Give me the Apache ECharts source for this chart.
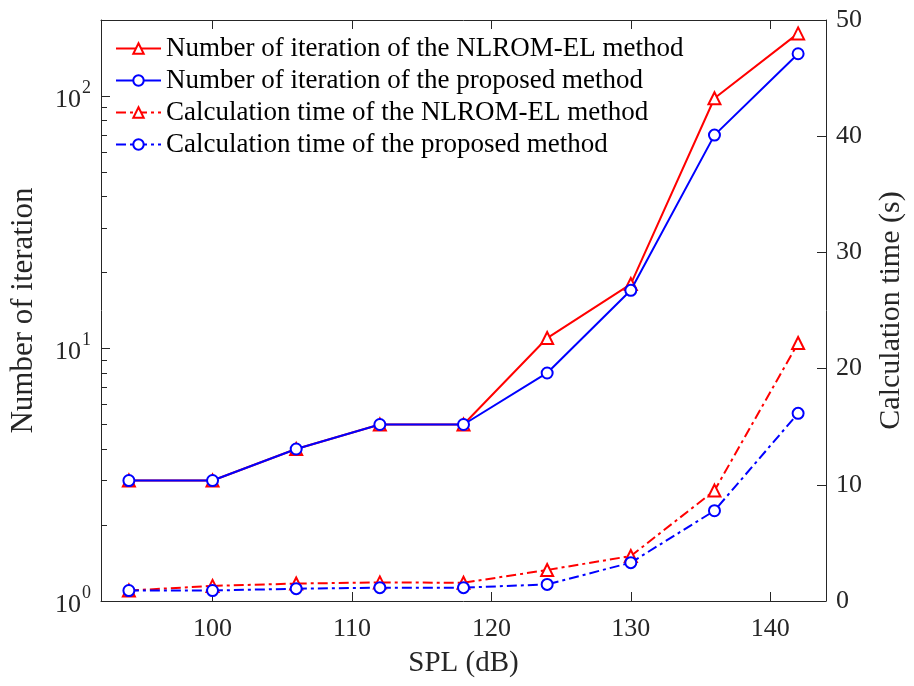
<!DOCTYPE html>
<html>
<head>
<meta charset="utf-8">
<script src="https://cdn.jsdelivr.net/npm/echarts@6/dist/echarts.min.js"></script>
<style>
html, body { margin: 0; padding: 0; background: #fff; }
#main { width: 914px; height: 686px; }
</style>
</head>
<body>
<div id="main"></div>
<script>
var dom = document.getElementById('main');
var myChart = echarts.init(dom);

var spl = [94, 100, 106, 112, 118, 124, 130, 136, 142];
var iterNlrom = [3, 3, 4, 5, 5, 11, 18, 98, 177];
var iterProposed = [3, 3, 4, 5, 5, 8, 17, 70, 147];
var timeNlrom = [0.9, 1.3, 1.5, 1.6, 1.57, 2.67, 3.87, 9.5, 22.2];
var timeProposed = [0.9, 0.9, 1.06, 1.15, 1.15, 1.43, 3.3, 7.77, 16.15];
var xTicks = [100, 110, 120, 130, 140];
var logMajor = [1, 10, 100];
var logMinor = [2, 3, 4, 5, 6, 7, 8, 9, 20, 30, 40, 50, 60, 70, 80, 90, 200];

var names = [
    'Number of iteration of the NLROM-EL method',
    'Number of iteration of the proposed method',
    'Calculation time of the NLROM-EL method',
    'Calculation time of the proposed method'
];

function pairs(ys) {
    var out = [];
    for (var i = 0; i < spl.length; i++) {
        out.push([spl[i], ys[i]]);
    }
    return out;
}

var font = 'Liberation Serif';
var black = '#262626';
var dashDot = [10, 4, 3, 4];

var option = {
    animation: false,
    backgroundColor: '#fff',
    grid: {
        left: 97,
        right: 84,
        top: 20,
        bottom: 85
    },
    legend: {
        left: 110,
        top: 30,
        orient: 'vertical',
        itemWidth: 45,
        itemHeight: 13,
        itemGap: 5,
        textStyle: {
            fontFamily: font,
            fontSize: 27,
            color: '#000'
        },
        data: names
    },
    xAxis: [
        {
            type: 'value',
            min: 92,
            max: 144,
            name: 'SPL (dB)',
            nameLocation: 'middle',
            nameGap: 48,
            nameTextStyle: { fontFamily: font, fontSize: 29, color: black },
            axisLine: { lineStyle: { color: black, width: 1 } },
            axisTick: { inside: true, length: 9, customValues: xTicks, lineStyle: { color: black } },
            axisLabel: { customValues: xTicks, margin: 15, fontFamily: font, fontSize: 26, color: black },
            splitLine: { show: false }
        },
        {
            type: 'value',
            position: 'top',
            min: 92,
            max: 144,
            axisLine: { lineStyle: { color: black, width: 1 } },
            axisTick: { inside: true, length: 9, customValues: xTicks, lineStyle: { color: black } },
            axisLabel: { show: false },
            splitLine: { show: false }
        }
    ],
    yAxis: [
        {
            type: 'log',
            logBase: 10,
            min: 1,
            max: 200,
            position: 'left',
            name: 'Number of iteration',
            nameLocation: 'middle',
            nameRotate: 90,
            nameGap: 62,
            nameTextStyle: { fontFamily: font, fontSize: 31, color: black },
            axisLine: { show: true, lineStyle: { color: black, width: 1 } },
            axisTick: { inside: true, length: 9, customValues: logMajor, lineStyle: { color: black } },
            axisLabel: {
                customValues: logMajor,
                margin: 10,
                formatter: function (v) {
                    var e = Math.round(Math.log(v) / Math.LN10);
                    return '{b|10}{s|' + e + '}';
                },
                rich: {
                    b: { fontFamily: font, fontSize: 26, color: black, lineHeight: 34, verticalAlign: 'bottom' },
                    s: { fontFamily: font, fontSize: 18, color: black, lineHeight: 18, verticalAlign: 'top', padding: [0, 0, 0, 1] }
                }
            },
            splitLine: { show: false }
        },
        {
            type: 'log',
            logBase: 10,
            min: 1,
            max: 200,
            position: 'left',
            axisLine: { show: false },
            axisTick: { inside: true, length: 6, customValues: logMinor, lineStyle: { color: black } },
            axisLabel: { show: false },
            splitLine: { show: false }
        },
        {
            type: 'value',
            min: 0,
            max: 50,
            interval: 10,
            position: 'right',
            name: 'Calculation time (s)',
            nameLocation: 'middle',
            nameRotate: 90,
            nameGap: 50,
            nameTextStyle: { fontFamily: font, fontSize: 30, color: black },
            axisLine: { show: true, lineStyle: { color: black, width: 1 } },
            axisTick: { inside: true, length: 9, lineStyle: { color: black } },
            axisLabel: { margin: 10, fontFamily: font, fontSize: 26, color: black },
            splitLine: { show: false }
        }
    ],
    series: [
        {
            name: names[0],
            type: 'line',
            yAxisIndex: 0,
            data: pairs(iterNlrom),
            symbol: 'emptyTriangle',
            symbolSize: 12,
            color: '#ff0000',
            lineStyle: { width: 2, color: '#ff0000' },
            itemStyle: { borderWidth: 2, color: '#ff0000', borderColor: '#ff0000' },
            z: 2
        },
        {
            name: names[1],
            type: 'line',
            yAxisIndex: 0,
            data: pairs(iterProposed),
            symbol: 'emptyCircle',
            symbolSize: 11,
            color: '#0000ff',
            lineStyle: { width: 2, color: '#0000ff' },
            itemStyle: { borderWidth: 2, color: '#0000ff', borderColor: '#0000ff' },
            z: 3
        },
        {
            name: names[2],
            type: 'line',
            yAxisIndex: 2,
            data: pairs(timeNlrom),
            symbol: 'emptyTriangle',
            symbolSize: 12,
            color: '#ff0000',
            lineStyle: { width: 2, color: '#ff0000', type: dashDot },
            itemStyle: { borderWidth: 2, color: '#ff0000', borderColor: '#ff0000' },
            z: 2
        },
        {
            name: names[3],
            type: 'line',
            yAxisIndex: 2,
            data: pairs(timeProposed),
            symbol: 'emptyCircle',
            symbolSize: 11,
            color: '#0000ff',
            lineStyle: { width: 2, color: '#0000ff', type: dashDot },
            itemStyle: { borderWidth: 2, color: '#0000ff', borderColor: '#0000ff' },
            z: 3
        }
    ]
};

myChart.setOption(option);
</script>
</body>
</html>
